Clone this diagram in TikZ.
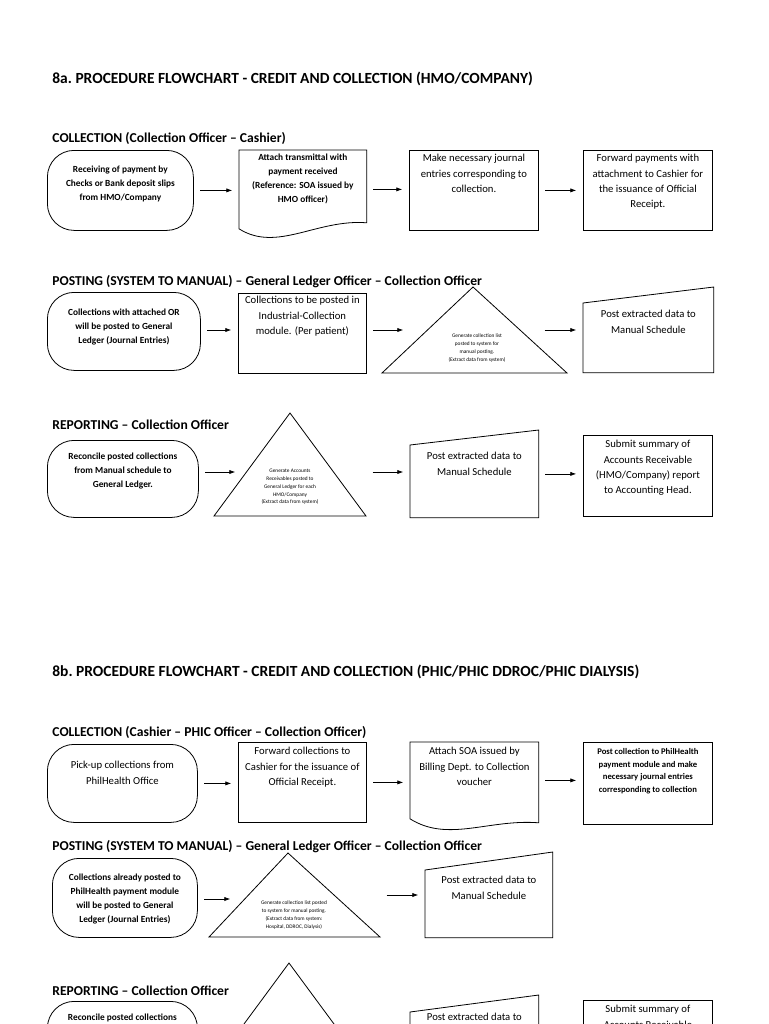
\documentclass[tikz,border=0pt]{standalone}
\usepackage{fontspec}
\setmainfont{Carlito}
\usetikzlibrary{arrows.meta,calc}

% box with fixed size, text pushed down from the top
\newcommand\inbox[4]{\parbox[c][\dimexpr0.75pt*#2\relax][t]{\dimexpr0.75pt*#1\relax}{\centering\vspace*{\dimexpr0.75pt*#3\relax}#4\par}}
\newcommand\boxfont{\fontsize{8}{11.4}\selectfont}
\newcommand\termfont{\fontsize{7}{10.3}\selectfont\bfseries}
\newcommand\trifont{\fontsize{4}{5.8}\selectfont}

\tikzset{
  box/.style={draw, inner sep=0pt, anchor=north west, font=\boxfont},
  term/.style={box, rounded corners=20pt, font=\termfont},
  frame/.style={inner sep=0pt, anchor=north west, font=\boxfont},
  tri/.style={inner sep=0pt, align=center, font=\trifont},
  title/.style={anchor=west, inner sep=0pt, font=\fontsize{11.6}{13}\selectfont\bfseries},
  head/.style={anchor=west, inner sep=0pt, font=\fontsize{10.2}{12}\selectfont\bfseries},
  flow/.style={-{Latex[length=4.5pt,width=3.2pt]}, shorten <=5pt, shorten >=5pt}
}

\begin{document}
\begin{tikzpicture}[x=0.75pt, y=-0.75pt, line width=0.6pt]
\useasboundingbox (0,0) rectangle (768,1024);
\clip (0,0) rectangle (768,1024);

% 8a
\node[title] (ta) at (52,79) {8a.\ PROCEDURE FLOWCHART - CREDIT AND COLLECTION (HMO/COMPANY)};

\node[head] (ha1) at (52,138) {COLLECTION (Collection Officer – Cashier)};
\node[term] (c1) at (47,150) {\inbox{146}{80}{16}{Receiving of payment by\\Checks or Bank deposit slips\\from HMO/Company}};
\node[frame, font=\termfont] (c2) at (239,150) {\inbox{127}{78}{4}{Attach transmittal with\\payment received\\(Reference: SOA issued by\\HMO officer)}};
\draw (c2.north west) -- (c2.north east) -- ([yshift=4.5pt]c2.south east) .. controls +(-50,-4) and +(38,24) .. (c2.south west) -- cycle;
\node[box] (c3) at (409,150) {\inbox{129}{80}{4}{Make necessary journal\\entries corresponding to\\collection.}};
\node[box] (c4) at (583,150) {\inbox{129}{80}{4}{Forward payments with\\attachment to Cashier for\\the issuance of Official\\Receipt.}};
\draw[flow] (c1) -- (c1 -| c2.west);
\draw[flow] (c2) -- (c2 -| c3.west);
\draw[flow] (c3) -- (c3 -| c4.west);

\node[head] (ha2) at (52,282) {POSTING (SYSTEM TO MANUAL) – General Ledger Officer – Collection Officer};
\node[term] (p1) at (47,292) {\inbox{153}{78}{17}{Collections with attached OR\\will be posted to General\\Ledger (Journal Entries)}};
\node[box] (p2) at (238,293) {\inbox{128}{80}{3}{Collections to be posted in\\Industrial-Collection\\module. (Per patient)}};
\draw (473,287) -- (567,373) -- (382,373) -- cycle;
\node[tri] (p3) at (477,348) {Generate collection list\\posted to system for\\manual posting.\\(Extract data from system)};
\coordinate (p3w) at (410,330);
\coordinate (p3e) at (538,330);
\node[frame] (p4) at (583,287) {\inbox{130}{85}{23}{Post extracted data to\\Manual Schedule}};
\draw (p4.south west) -- ([yshift=-12pt]p4.north west) -- (p4.north east) -- (p4.south east) -- cycle;
\draw[flow] (p1.east |- p3w) -- (p3w -| p2.west);
\draw[flow] (p2.east |- p3w) -- (p3w);
\draw[flow] (p3e) -- (p3e -| p4.west);

\node[head] (ha3) at (52,425) {REPORTING – Collection Officer};
\node[term] (r1) at (47,440) {\inbox{151}{77}{13}{Reconcile posted collections\\from Manual schedule to\\General Ledger.}};
\draw (290,413) -- (366,516) -- (214,516) -- cycle;
\node[tri] (r2) at (290,487) {Generate Accounts\\Receivables posted to\\General Ledger for each\\HMO/Company\\(Extract data from system)};
\coordinate (r2w) at (242,472);
\coordinate (r2e) at (366,472);
\node[frame] (r3) at (410,430) {\inbox{128}{87}{22}{Post extracted data to\\Manual Schedule}};
\draw (r3.south west) -- ([yshift=-11.25pt]r3.north west) -- (r3.north east) -- (r3.south east) -- cycle;
\node[box] (r4) at (583,435) {\inbox{129}{81}{5}{Submit summary of\\Accounts Receivable\\(HMO/Company) report\\to Accounting Head.}};
\draw[flow] (r1.east |- r2w) -- (r2w);
\draw[flow] (r2e) -- (r2e -| r3.west);
\draw[flow] (r3) -- (r3 -| r4.west);

% 8b
\node[title] (tb) at (52,672) {8b.\ PROCEDURE FLOWCHART - CREDIT AND COLLECTION (PHIC/PHIC DDROC/PHIC DIALYSIS)};

\node[head] (hb1) at (52,732) {COLLECTION (Cashier – PHIC Officer – Collection Officer)};
\node[term, font=\boxfont] (q1) at (47,744) {\inbox{150}{78}{17}{Pick-up collections from\\PhilHealth Office}};
\node[box] (q2) at (238,742) {\inbox{128}{80}{5}{Forward collections to\\Cashier for the issuance of\\Official Receipt.}};
\node[frame] (q3) at (410,742) {\inbox{128}{76}{5}{Attach SOA issued by\\Billing Dept. to Collection\\voucher}};
\draw (q3.north west) -- (q3.north east) -- ([yshift=-3pt]q3.south east) .. controls +(-50,-4) and +(38,24) .. (q3.south west) -- cycle;
\node[box, font=\fontsize{6.5}{9.4}\selectfont\bfseries] (q4) at (583,742) {\inbox{129}{82}{6}{Post collection to PhilHealth\\payment module and make\\necessary journal entries\\corresponding to collection}};
\draw[flow] (q1) -- (q1 -| q2.west);
\draw[flow] (q2) -- (q2 -| q3.west);
\draw[flow] (q3) -- (q3 -| q4.west);

\node[head] (hb2) at (52,847) {POSTING (SYSTEM TO MANUAL) – General Ledger Officer – Collection Officer};
\node[term] (s1) at (52,858) {\inbox{145}{79}{16}{Collections already posted to\\PhilHealth payment module\\will be posted to General\\Ledger (Journal Entries)}};
\draw (288,853) -- (380,937) -- (209,937) -- cycle;
\node[tri] (s2) at (294,915) {Generate collection list posted\\to system for manual posting.\\(Extract data from system:\\Hospital, DDROC, Dialysis)};
\coordinate (s2w) at (237,899);
\coordinate (s2e) at (380,895);
\node[frame] (s3) at (425,852) {\inbox{127}{85}{24}{Post extracted data to\\Manual Schedule}};
\draw (s3.south west) -- ([yshift=-13.5pt]s3.north west) -- (s3.north east) -- (s3.south east) -- cycle;
\draw[flow] (s1.east |- s2w) -- (s2w);
\draw[flow] (s2e) -- (s2e -| s3.west);

\node[head] (hb3) at (52,991) {REPORTING – Collection Officer};
\node[term] (u1) at (47,1001) {\inbox{150}{78}{13}{Reconcile posted collections}};
\draw (289,963) -- (365,1066) -- (213,1066) -- cycle;
\node[frame] (u3) at (410,995) {\inbox{128}{87}{18}{Post extracted data to}};
\draw (u3.south west) -- ([yshift=-12.75pt]u3.north west) -- (u3.north east) -- (u3.south east) -- cycle;
\node[box] (u4) at (583,1000) {\inbox{129}{81}{5}{Submit summary of\\Accounts Receivable}};
\end{tikzpicture}
\end{document}
